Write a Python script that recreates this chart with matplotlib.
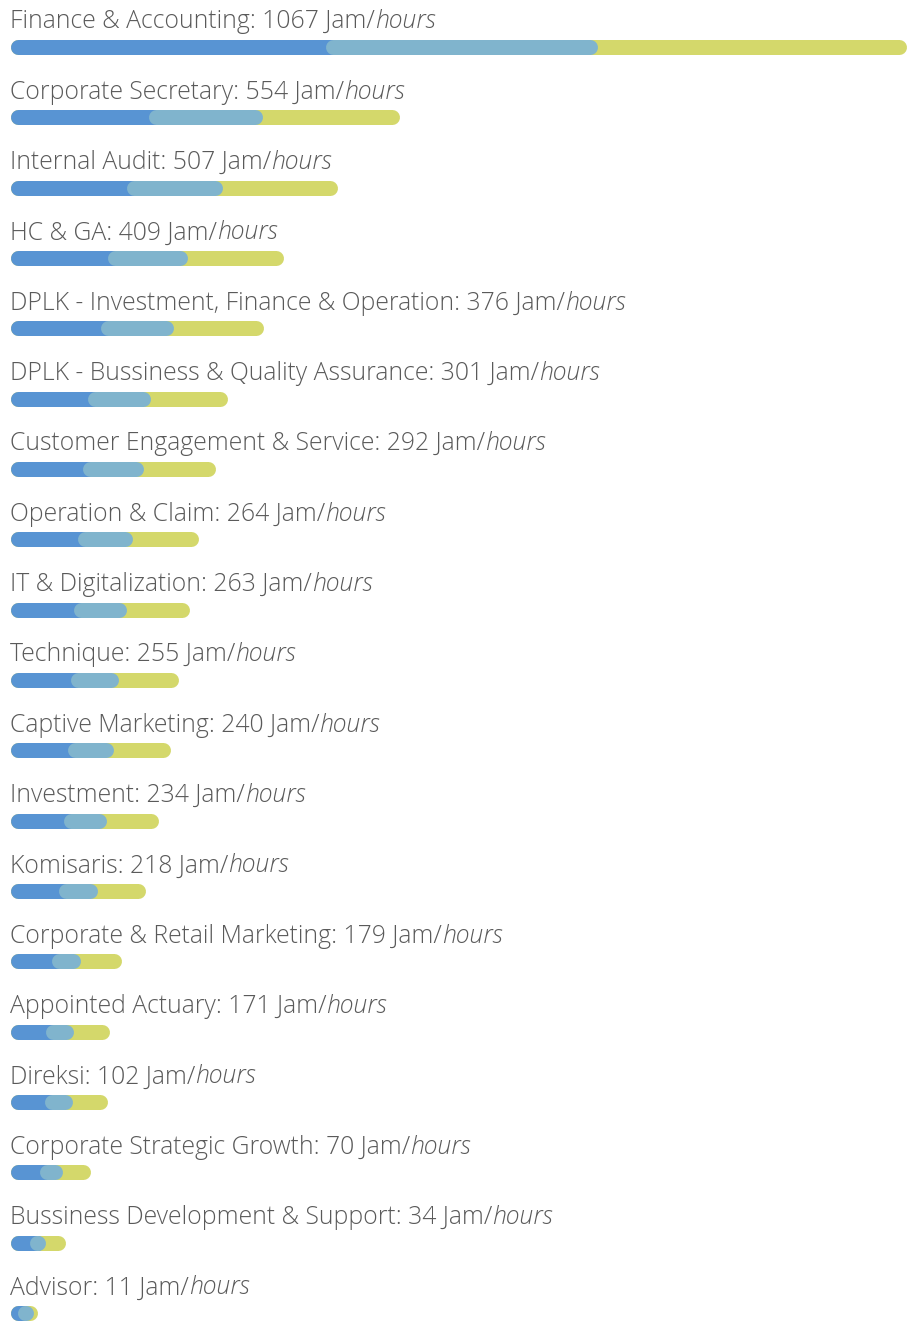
import matplotlib
matplotlib.use("Agg")
import matplotlib.pyplot as plt

departments = [
    "Finance & Accounting", "Corporate Secretary", "Internal Audit", "HC & GA",
    "DPLK - Investment, Finance & Operation", "DPLK - Bussiness & Quality Assurance",
    "Customer Engagement & Service", "Operation & Claim", "IT & Digitalization",
    "Technique", "Captive Marketing", "Investment", "Komisaris",
    "Corporate & Retail Marketing", "Appointed Actuary", "Direksi",
    "Corporate Strategic Growth", "Bussiness Development & Support", "Advisor",
]
total_hours = [1067, 554, 507, 409, 376, 301, 292, 264, 263, 255, 240, 234, 218,
               179, 171, 102, 70, 34, 11]
# segment lengths of each bar (relative units as drawn)
seg_blue = [315, 138, 116, 97, 90, 77, 72, 67, 63, 60, 57, 53, 48, 41, 35, 34, 29, 19, 11]
seg_light = [272, 114, 96, 80, 73, 63, 61, 55, 53, 48, 46, 43, 39, 29, 28, 28, 23, 16, 9]
seg_yellow = [309, 137, 115, 96, 90, 77, 72, 66, 63, 60, 57, 52, 48, 41, 36, 35, 28, 20, 7]

C_BLUE = "#5894d3"
C_LIGHT = "#80b4cd"
C_YELLOW = "#d4d86b"
C_TEXT = "#5a5a5a"

W, H, DPI = 908, 1321, 100
fig = plt.figure(figsize=(W / DPI, H / DPI), dpi=DPI)
fig.patch.set_facecolor("white")
ax = fig.add_axes([0, 0, 1, 1])
ax.set_xlim(-10, W - 10)
row_px = 70.33
top_px = 47
ax.set_ylim((H - top_px) / row_px, -top_px / row_px)
ax.axis("off")

lw_px = 15
lw_pt = lw_px * 72 / DPI
r = lw_px / 2  # x data unit == 1 px


def pill(x0, x1, y, color, z):
    a, b = x0 + r, x1 - r
    if b - a < 0.2:
        m = (x0 + x1) / 2
        a, b = m - 0.1, m + 0.1
    ax.plot([a, b], [y, y], color=color, lw=lw_pt, solid_capstyle="round", zorder=z)


FS = 17.8
text_off = 12.5 / row_px
for i, dep in enumerate(departments):
    b1 = seg_blue[i]
    b2 = b1 + seg_light[i]
    tot = b2 + seg_yellow[i]
    pill(0, tot, i, C_YELLOW, 1)
    pill(0, min(b1 + 2 * r, b2), i, C_BLUE, 2)
    pill(b1, b2, i, C_LIGHT, 3)

    t = ax.text(0, i - text_off, f"{dep}: {total_hours[i]} Jam/", fontsize=FS,
                family="Open Sans", weight="light", color=C_TEXT,
                va="bottom", ha="left")
    ax.annotate("hours", xy=(1, 0), xycoords=t, fontsize=FS, family="Open Sans",
                weight="light", style="italic", color=C_TEXT,
                va="bottom", ha="left")

fig.savefig("out.png", dpi=DPI, facecolor="white")
